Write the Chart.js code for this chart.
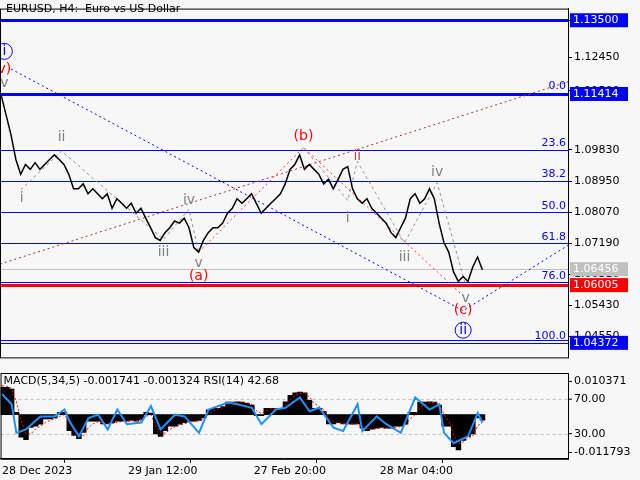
<!DOCTYPE html>
<html>
<head>
<meta charset="utf-8">
<script src="https://cdn.jsdelivr.net/npm/chart.js@4.4.1/dist/chart.umd.min.js"></script>
<style>
  body { margin: 0; background: #f7f7f7; }
  #wrap { position: relative; width: 640px; height: 480px; }
  #top { position: absolute; left: 0; top: 0; }
  #bot { position: absolute; left: 0; top: 366px; }
</style>
</head>
<body>
<div id="wrap">
  <canvas id="top" width="640" height="366"></canvas>
  <canvas id="bot" width="640" height="114"></canvas>
</div>
<script>
// EURUSD H4 closes
const closes = [
  1.1135, 1.1080, 1.1025, 1.0956, 1.0914, 1.0942, 1.0928, 1.0947, 1.0928, 1.0942,
  1.0956, 1.0969, 1.0956, 1.0942, 1.0914, 1.0873, 1.0873, 1.0887, 1.0859, 1.0873,
  1.0859, 1.0845, 1.0859, 1.0818, 1.0845, 1.0832, 1.0818, 1.0832, 1.0804, 1.0818,
  1.0790, 1.0763, 1.0735, 1.0727, 1.0749, 1.0763, 1.0782, 1.0776, 1.0790, 1.0763,
  1.0707, 1.0694, 1.0727, 1.0749, 1.0763, 1.0763, 1.0776, 1.0804, 1.0818, 1.0845,
  1.0832, 1.0845, 1.0859, 1.0832, 1.0804, 1.0818, 1.0832, 1.0845, 1.0859, 1.0887,
  1.0928, 1.0942, 1.0969, 1.0928, 1.0942, 1.0928, 1.0914, 1.0887, 1.0900, 1.0873,
  1.0900, 1.0928, 1.0936, 1.0873, 1.0845, 1.0832, 1.0845, 1.0818, 1.0804, 1.0790,
  1.0776, 1.0749, 1.0735, 1.0763, 1.0790, 1.0845, 1.0859, 1.0832, 1.0845, 1.0873,
  1.0845, 1.0776, 1.0721, 1.0694, 1.0638, 1.0611, 1.0625, 1.0611, 1.0652, 1.0680,
  1.0644
];
const macdHist = [
  0.0085, 0.0085, 0.0080, 0.0007, -0.0070, -0.0078, -0.0040, -0.0036, -0.0030, -0.0013,
  -0.0013, -0.0010, 0.0007, 0.0007, -0.0050, -0.0065, -0.0075, -0.0055, -0.0020, -0.0020,
  -0.0020, -0.0029, -0.0029, -0.0025, -0.0020, -0.0020, -0.0020, -0.0018, -0.0020, -0.0015,
  0.0007, 0.0005, -0.0060, -0.0068, -0.0050, -0.0036, -0.0036, -0.0030, -0.0025, -0.0020,
  -0.0020, -0.0018, -0.0010, 0.0015, 0.0020, 0.0020, 0.0025, 0.0039, 0.0039, 0.0040,
  0.0039, 0.0035, 0.0030, -0.0003, -0.0003, 0.0020, 0.0020, 0.0020, 0.0018, 0.0040,
  0.0060, 0.0068, 0.0070, 0.0068, 0.0045, 0.0020, 0.0020, 0.0010, -0.0029, -0.0029,
  -0.0025, -0.0029, -0.0029, -0.0030, -0.0029, -0.0042, -0.0050, -0.0045, -0.0042, -0.0040,
  -0.0042, -0.0042, -0.0036, -0.0036, -0.0030, 0.0007, 0.0007, 0.0039, 0.0039, 0.0040,
  0.0039, 0.0030, -0.0036, -0.0036, -0.0100, -0.0110, -0.0080, -0.0068, -0.0060, -0.0010,
  -0.0017
];
const macdSignal = [
  0.0090, 0.0088, 0.0082, 0.0040, -0.0020, -0.0060, -0.0060, -0.0045, -0.0036, -0.0025,
  -0.0018, -0.0013, -0.0005, 0.0000, -0.0025, -0.0050, -0.0068, -0.0065, -0.0040, -0.0028,
  -0.0022, -0.0025, -0.0028, -0.0027, -0.0023, -0.0021, -0.0020, -0.0019, -0.0019, -0.0017,
  -0.0005, 0.0000, -0.0035, -0.0055, -0.0058, -0.0045, -0.0038, -0.0033, -0.0028, -0.0023,
  -0.0021, -0.0019, -0.0014, 0.0000, 0.0012, 0.0018, 0.0022, 0.0032, 0.0037, 0.0039,
  0.0039, 0.0037, 0.0033, 0.0012, 0.0003, 0.0012, 0.0018, 0.0019, 0.0019, 0.0030,
  0.0048, 0.0060, 0.0066, 0.0067, 0.0055, 0.0035, 0.0025, 0.0015, -0.0012, -0.0022,
  -0.0025, -0.0027, -0.0028, -0.0029, -0.0029, -0.0036, -0.0044, -0.0045, -0.0043, -0.0041,
  -0.0041, -0.0042, -0.0039, -0.0037, -0.0033, -0.0012, 0.0000, 0.0022, 0.0032, 0.0037,
  0.0038, 0.0034, 0.0000, -0.0020, -0.0065, -0.0090, -0.0085, -0.0075, -0.0066, -0.0035,
  -0.0024
];
const rsiIdx = [0, 2, 3, 5, 7, 8, 11, 13, 14, 16, 18, 20, 22, 24, 26, 29, 31, 33, 36, 38, 41, 43, 47, 49, 52, 54, 57, 59, 62, 64, 66, 69, 71, 74, 75, 78, 80, 83, 86, 89, 91, 92, 94, 97, 99, 100];
const rsiVals = [76, 64, 31, 35, 45, 50, 50, 58, 45, 27, 48, 52, 35, 58, 41, 43, 62, 35, 52, 50, 31, 58, 66, 64, 60, 41, 58, 60, 72, 56, 60, 37, 33, 64, 33, 50, 41, 31, 72, 58, 64, 31, 19, 27, 54, 43];

const priceTicks = [1.13500, 1.12450, 1.11500, 1.09830, 1.08950, 1.08070, 1.07190, 1.06310, 1.05430, 1.04550];
const dateTickIdx = [0, 26.2, 52.4, 78.6];
const dateTickLabels = ['28 Dec 2023', '29 Jan 12:00', '27 Feb 20:00', '28 Mar 04:00'];

const fibLevels = ['23.6', '38.2', '50.0', '61.8', '76.0', '100.0'];
const fibPrices = [1.09830, 1.08950, 1.08070, 1.07190, 1.06080, 1.04372];

const waveText = ['i', 'v)', 'v', 'ii', 'i', 'iii', 'iv', 'v', '(a)', '(b)', 'ii', 'i', 'iii', 'iv', 'v', '(c)', 'ii'];
const waveIdx = [0.6, 0.6, 0.6, 12.5, 4.2, 33.7, 39, 41, 41, 62.8, 74, 72, 83.8, 90.6, 96.5, 96, 96];
const wavePrice = [1.1262, 1.1212, 1.1171, 1.1019, 1.0845, 1.0694, 1.0840, 1.0661, 1.0625, 1.1022, 1.0964, 1.0790, 1.0680, 1.0920, 1.0564, 1.0528, 1.0473];

const FONT = '11px "DejaVu Sans"';
const X_MIN = -0.3, X_MAX = 117.8;

const levelsPlugin = {
  id: 'levels',
  beforeDatasetsDraw(chart) {
    const { ctx, chartArea: a, scales: { x, y } } = chart;
    const hl = (p, col, w) => {
      const py = Math.round(y.getPixelForValue(p)) + 0.5;
      ctx.strokeStyle = col; ctx.lineWidth = w;
      ctx.beginPath(); ctx.moveTo(a.left, py); ctx.lineTo(a.right, py); ctx.stroke();
    };
    ctx.save();
    hl(1.13500, '#0000ff', 3);
    hl(1.11414, '#0000ff', 3);
    fibPrices.forEach(p => hl(p, '#0000ff', 1));
    hl(1.04450, '#0000ff', 1);
    hl(1.06456, '#c0c0c0', 1);
    hl(1.06005, '#ff0000', 3);
    ctx.font = FONT; ctx.fillStyle = '#0000ff'; ctx.textAlign = 'right'; ctx.textBaseline = 'bottom';
    fibLevels.forEach((t, i) => ctx.fillText(t, a.right - 2, y.getPixelForValue(fibPrices[i]) - 1));
    ctx.fillText('0.0', a.right - 2, y.getPixelForValue(1.11414) - 2);
    // dotted / dashed wave guides
    const seg = (pts, col, dash) => {
      ctx.strokeStyle = col; ctx.lineWidth = 1; ctx.setLineDash(dash);
      ctx.beginPath();
      pts.forEach((p, i) => {
        const px = x.getPixelForValue(p[0]), py = y.getPixelForValue(p[1]);
        i ? ctx.lineTo(px, py) : ctx.moveTo(px, py);
      });
      ctx.stroke();
    };
    seg([[2, 1.1212], [96, 1.0528], [117.8, 1.0713]], '#0000ff', [2, 3]);
    seg([[X_MIN, 1.0660], [117.8, 1.1176]], '#a03030', [2, 3]);
    seg([[41, 1.0694], [62.8, 1.0990], [96, 1.0570]], '#ff3030', [2, 3]);
    seg([[4, 1.0870], [12.5, 1.0980], [33.7, 1.0730], [39, 1.0815], [41, 1.0694]], '#909090', [3, 3]);
    seg([[62.8, 1.0990], [72, 1.0840], [74, 1.0950], [83.8, 1.0720], [90.6, 1.0890], [96.5, 1.0600]], '#909090', [3, 3]);
    ctx.restore();
  },
  afterDraw(chart) {
    const { ctx, chartArea: a, scales: { x, y } } = chart;
    ctx.save();
    ctx.font = '14px "DejaVu Sans"'; ctx.textAlign = 'center'; ctx.textBaseline = 'middle';
    waveText.forEach((t, i) => {
      const px = x.getPixelForValue(waveIdx[i]), py = y.getPixelForValue(wavePrice[i]);
      let col = '#808080';
      if (t.startsWith('(') || t === 'v)') col = '#ff0000';
      if (i === 0 || i === 16) col = '#0000ff';
      if (i === 10) col = '#b05050';
      ctx.fillStyle = col;
      ctx.fillText(t, px, py);
      if (i === 0 || i === 16) {
        ctx.strokeStyle = '#0000ff'; ctx.lineWidth = 1;
        ctx.beginPath(); ctx.arc(px, py, 8, 0, Math.PI * 2); ctx.stroke();
      }
    });
    ctx.font = FONT; ctx.textAlign = 'left'; ctx.fillStyle = '#000';
    ctx.textBaseline = 'top';
    ctx.fillText('EURUSD, H4:  Euro vs US Dollar', 6, 4);
    ctx.textBaseline = 'middle';
    const box = (p, bg) => {
      const py = y.getPixelForValue(p);
      ctx.fillStyle = bg; ctx.fillRect(a.right + 2, py - 7, 58, 14);
      ctx.fillStyle = '#fff'; ctx.fillText(p.toFixed(5), a.right + 5, py);
    };
    box(1.13500, '#0000ff');
    box(1.11414, '#0000ff');
    box(1.06456, '#c0c0c0');
    box(1.06005, '#ff0000');
    box(1.04372, '#0000ff');
    ctx.strokeStyle = '#000'; ctx.lineWidth = 1;
    ctx.strokeRect(a.left + 0.5, a.top + 0.5, a.right - a.left, a.bottom - a.top);
    ctx.restore();
  }
};

new Chart(document.getElementById('top'), {
  type: 'line',
  data: {
    datasets: [{
      data: closes.map((v, i) => ({ x: i, y: v })),
      borderColor: '#000', borderWidth: 1.5, pointRadius: 0, tension: 0
    }]
  },
  options: {
    responsive: false, animation: false,
    plugins: { legend: { display: false }, tooltip: { enabled: false } },
    scales: {
      x: { type: 'linear', min: X_MIN, max: X_MAX, display: false },
      y: {
        position: 'right', min: 1.0396, max: 1.1383,
        afterFit(s) { s.width = 72; },
        afterBuildTicks(s) { s.ticks = priceTicks.map(v => ({ value: v })); },
        grid: { drawOnChartArea: false, color: '#000', tickLength: 4 },
        border: { color: '#000' },
        ticks: { color: '#000', font: { family: 'DejaVu Sans', size: 11 }, padding: 2, callback: v => v.toFixed(5) }
      }
    }
  },
  plugins: [levelsPlugin]
});

const botPlugin = {
  id: 'bot',
  beforeDatasetsDraw(chart) {
    const { ctx, chartArea: a, scales: { yRsi } } = chart;
    ctx.save();
    ctx.strokeStyle = '#c0c0c0'; ctx.setLineDash([3, 3]); ctx.lineWidth = 1;
    [70, 30].forEach(v => {
      const py = Math.round(yRsi.getPixelForValue(v)) + 0.5;
      ctx.beginPath(); ctx.moveTo(a.left, py); ctx.lineTo(a.right, py); ctx.stroke();
    });
    ctx.restore();
  },
  afterDraw(chart) {
    const { ctx, chartArea: a, scales: { yMacd, yRsi } } = chart;
    ctx.save();
    ctx.font = FONT; ctx.fillStyle = '#000'; ctx.textBaseline = 'middle'; ctx.textAlign = 'left';
    ctx.fillText('MACD(5,34,5) -0.001741 -0.001324 RSI(14) 42.68', a.left + 3, a.top + 8);
    [[yMacd, 0.010371, '0.010371'], [yRsi, 70, '70.00'], [yRsi, 30, '30.00'], [yMacd, -0.011793, '-0.011793']].forEach(t => {
      const py = t[0].getPixelForValue(t[1]);
      ctx.fillText(t[2], a.right + 6, py);
      ctx.strokeStyle = '#000';
      ctx.beginPath(); ctx.moveTo(a.right, py); ctx.lineTo(a.right + 4, py); ctx.stroke();
    });
    ctx.strokeStyle = '#000'; ctx.lineWidth = 1;
    ctx.strokeRect(a.left + 0.5, a.top + 0.5, a.right - a.left, a.bottom - a.top);
    ctx.restore();
  }
};

new Chart(document.getElementById('bot'), {
  type: 'bar',
  data: {
    datasets: [
      {
        type: 'line', yAxisID: 'yRsi', order: 0,
        data: rsiVals.map((v, i) => ({ x: rsiIdx[i], y: v })),
        borderColor: '#1e90ff', borderWidth: 2, pointRadius: 0, tension: 0
      },
      {
        type: 'line', yAxisID: 'yMacd', order: 1,
        data: macdSignal.map((v, i) => ({ x: i, y: v })),
        borderColor: '#ff0000', borderWidth: 1, borderDash: [2, 2], pointRadius: 0, tension: 0
      },
      {
        type: 'bar', yAxisID: 'yMacd', order: 2,
        data: macdHist.map((v, i) => ({ x: i, y: v })),
        backgroundColor: '#000', barPercentage: 1, categoryPercentage: 1
      }
    ]
  },
  options: {
    responsive: false, animation: false,
    layout: { padding: { top: 7 } },
    plugins: { legend: { display: false }, tooltip: { enabled: false } },
    scales: {
      x: {
        type: 'linear', min: X_MIN, max: X_MAX, offset: false,
        afterBuildTicks(s) { s.ticks = dateTickIdx.map(v => ({ value: v })); },
        grid: { drawOnChartArea: false, color: '#000', tickLength: 4 },
        border: { color: '#000' },
        ticks: {
          color: '#000', font: { family: 'DejaVu Sans', size: 11 }, align: 'start', maxRotation: 0, padding: 2,
          callback: (v, i) => dateTickLabels[i]
        }
      },
      yMacd: {
        position: 'right', min: -0.01375, max: 0.01298,
        afterFit(s) { s.width = 72; },
        ticks: { display: false }, grid: { display: false }, border: { display: false }
      },
      yRsi: { type: 'linear', position: 'left', min: 0.9, max: 100.3, display: false }
    }
  },
  plugins: [botPlugin]
});
</script>
</body>
</html>
